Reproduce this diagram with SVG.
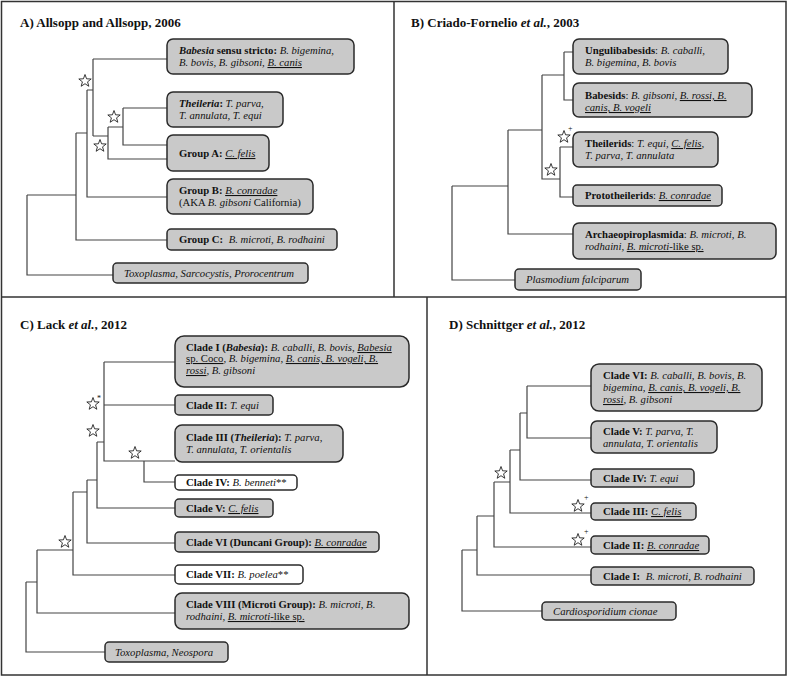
<svg xmlns="http://www.w3.org/2000/svg" xmlns:xlink="http://www.w3.org/1999/xlink" width="788" height="678" viewBox="0 0 788 678">
<defs>
<style>
text{font-family:"Liberation Serif","Times New Roman",serif;font-size:10.7px;fill:#111}
.title{font-size:13px;font-weight:bold}
.b{font-weight:bold}
.i{font-style:italic}
.u{text-decoration:underline}
.box{fill:#c9c9c9;stroke:#2a2a2a;stroke-width:1.5}
.wbox{fill:#fff;stroke:#2a2a2a;stroke-width:1.5}
.frame{fill:none;stroke:#333;stroke-width:1.5}
.conn path{fill:none;stroke:#444;stroke-width:1.2}
.star{fill:#fff;stroke:#222;stroke-width:0.9}
.mark{font-size:8px}
</style>
<path id="star" d="M0,-6.5 L1.59,-2.18 L6.18,-2.01 L2.57,0.83 L3.82,5.26 L0,2.7 L-3.82,5.26 L-2.57,0.83 L-6.18,-2.01 L-1.59,-2.18 Z"/>
</defs>
<rect width="788" height="678" fill="#fff"/>
<g id="frame" class="frame">
<rect x="1.5" y="1.5" width="784.5" height="673.5"/>
<path d="M394,2 V297 M2,297 H786 M427,297 V675"/>
</g>
<g id="titles">
<text class="title" x="20" y="27">A) Allsopp and Allsopp, 2006</text>
<text class="title" x="411" y="27">B) Criado-Fornelio <tspan class="i">et al.</tspan>, 2003</text>
<text class="title" x="20" y="329">C) Lack <tspan class="i">et al.</tspan>, 2012</text>
<text class="title" x="449" y="329">D) Schnittger <tspan class="i">et al.</tspan>, 2012</text>
</g>
<g id="connectors" class="conn">
<path d="M93,59 H167 M93,59 V136 M87,90 H93 M87,90 V197 H167 M123,108 H167 M123,108 V145 H167 M108,127 H123 M108,127 V159 H167 M93,136 H108 M76,133 H87 M76,133 V240 H167 M27,195 H76 M27,195 V275 H113"/>
<path d="M564,52 H573 M564,52 V100 H573 M542,75 H564 M542,75 V179 H560 M560,147 H573 M560,147 V197 H573 M508,130 H542 M508,130 V234 H573 M452,186 H508 M452,186 V280 H515"/>
<path d="M104,362 H175 M104,362 V461 H175 M104,405 H175 M144,461 V482 H175 M97,442 H104 M97,442 V508 H175 M87,480 H97 M87,480 V543 H175 M73,492 H87 M73,492 V575 H175 M37,550 H73 M37,550 V613 H175 M26,582 H37 M26,582 V652 H105"/>
<path d="M527,386 H591 M527,386 V438 H591 M520,413 H527 M520,413 V480 H591 M510,450 H520 M510,450 V513 H591 M494,482 H510 M494,482 V547 H591 M477,516 H494 M477,516 V575 H591 M462,550 H477 M462,550 V611 H542"/>
</g>
<g id="stars">
<use xlink:href="#star" href="#star" class="star" x="85" y="81"/>
<use xlink:href="#star" href="#star" class="star" x="114" y="117"/>
<use xlink:href="#star" href="#star" class="star" x="100" y="146"/>
<use xlink:href="#star" href="#star" class="star" x="564" y="137"/>
<text class="mark" x="568" y="131">+</text>
<use xlink:href="#star" href="#star" class="star" x="551" y="170"/>
<use xlink:href="#star" href="#star" class="star" x="93" y="404"/>
<text class="mark" x="97" y="401">*</text>
<use xlink:href="#star" href="#star" class="star" x="93" y="431"/>
<use xlink:href="#star" href="#star" class="star" x="135" y="453"/>
<use xlink:href="#star" href="#star" class="star" x="65" y="542"/>
<use xlink:href="#star" href="#star" class="star" x="501" y="473"/>
<use xlink:href="#star" href="#star" class="star" x="578" y="506"/>
<text class="mark" x="584" y="500">+</text>
<use xlink:href="#star" href="#star" class="star" x="578" y="540"/>
<text class="mark" x="584" y="534">+</text>
</g>
<g id="a-babesia">
<rect class="box" x="167" y="39" width="187" height="35" rx="6"/>
<text x="179" y="54"><tspan class="b"><tspan class="i">Babesia</tspan> sensu stricto:</tspan> <tspan class="i">B. bigemina,</tspan></text>
<text x="179" y="66" class="i">B. bovis, B. gibsoni, <tspan class="u">B. canis</tspan></text>
</g>
<g id="a-theileria">
<rect class="box" x="167" y="92" width="116" height="35" rx="6"/>
<text x="179" y="107"><tspan class="b"><tspan class="i">Theileria</tspan>:</tspan> <tspan class="i">T. parva,</tspan></text>
<text x="179" y="119" class="i">T. annulata, T. equi</text>
</g>
<g id="a-groupA">
<rect class="box" x="167" y="135" width="102" height="36" rx="6"/>
<text x="179" y="157"><tspan class="b">Group A:</tspan> <tspan class="i u">C. felis</tspan></text>
</g>
<g id="a-groupB">
<rect class="box" x="167" y="179" width="146" height="35" rx="6"/>
<text x="179" y="194"><tspan class="b">Group B:</tspan> <tspan class="i u">B. conradae</tspan></text>
<text x="179" y="206">(AKA <tspan class="i">B. gibsoni</tspan> California)</text>
</g>
<g id="a-groupC">
<rect class="box" x="167" y="229" width="170" height="21" rx="4"/>
<text x="179" y="243"><tspan class="b">Group C:</tspan> <tspan class="i" dx="3">B. microti, B. rodhaini</tspan></text>
</g>
<g id="a-outgroup">
<rect class="box" x="113" y="263" width="195" height="20" rx="4"/>
<text x="124" y="277" class="i">Toxoplasma, Sarcocystis, Prorocentrum</text>
</g>
<g id="b-unguli">
<rect class="box" x="573" y="39" width="155" height="35" rx="6"/>
<text x="585" y="54"><tspan class="b">Ungulibabesids</tspan>: <tspan class="i">B. caballi,</tspan></text>
<text x="585" y="66" class="i">B. bigemina, B. bovis</text>
</g>
<g id="b-babesids">
<rect class="box" x="573" y="83" width="179" height="34" rx="6"/>
<text x="585" y="99"><tspan class="b">Babesids</tspan>: <tspan class="i">B. gibsoni, <tspan class="u">B. rossi, B.</tspan></tspan></text>
<text x="585" y="111" class="i u">canis, B. vogeli</text>
</g>
<g id="b-theilerids">
<rect class="box" x="573" y="132" width="145" height="35" rx="6"/>
<text x="585" y="147"><tspan class="b">Theilerids</tspan>: <tspan class="i">T. equi, <tspan class="u">C. felis</tspan>,</tspan></text>
<text x="585" y="159" class="i">T. parva, T. annulata</text>
</g>
<g id="b-prototheilerids">
<rect class="box" x="573" y="185" width="149" height="21" rx="4"/>
<text x="585" y="199"><tspan class="b">Prototheilerids</tspan>: <tspan class="i u">B. conradae</tspan></text>
</g>
<g id="b-archaeo">
<rect class="box" x="573" y="223" width="203" height="36" rx="6"/>
<text x="585" y="238"><tspan class="b">Archaeopiroplasmida</tspan>: <tspan class="i">B. microti, B.</tspan></text>
<text x="585" y="250"><tspan class="i">rodhaini, <tspan class="u">B. microti</tspan></tspan><tspan class="u">-like sp.</tspan></text>
</g>
<g id="b-outgroup">
<rect class="box" x="515" y="269" width="126" height="21" rx="4"/>
<text x="526" y="283" class="i">Plasmodium falciparum</text>
</g>
<g id="c-clade1">
<rect class="box" x="175" y="336" width="234" height="51" rx="9"/>
<text x="186" y="351"><tspan class="b">Clade I (<tspan class="i">Babesia</tspan>):</tspan> <tspan class="i">B. caballi, B. bovis, <tspan class="u">Babesia</tspan></tspan></text>
<text x="186" y="362"><tspan class="u">sp. Coco</tspan>, <tspan class="i">B. bigemina, <tspan class="u">B. canis, B. vogeli, B.</tspan></tspan></text>
<text x="186" y="374" class="i"><tspan class="u">rossi</tspan>, B. gibsoni</text>
</g>
<g id="c-clade2">
<rect class="box" x="175" y="395" width="98" height="20" rx="4"/>
<text x="186" y="409"><tspan class="b">Clade II:</tspan> <tspan class="i">T. equi</tspan></text>
</g>
<g id="c-clade3">
<rect class="box" x="175" y="425" width="168" height="37" rx="7"/>
<text x="186" y="441"><tspan class="b">Clade III (<tspan class="i">Theileria</tspan>):</tspan> <tspan class="i">T. parva,</tspan></text>
<text x="186" y="453" class="i">T. annulata, T. orientalis</text>
</g>
<g id="c-clade4">
<rect class="wbox" x="175" y="475" width="122" height="15" rx="4"/>
<text x="186" y="486"><tspan class="b">Clade IV:</tspan> <tspan class="i">B. benneti</tspan>**</text>
</g>
<g id="c-clade5">
<rect class="box" x="175" y="499" width="98" height="18" rx="4"/>
<text x="186" y="512"><tspan class="b">Clade V:</tspan> <tspan class="i u">C. felis</tspan></text>
</g>
<g id="c-clade6">
<rect class="box" x="175" y="532" width="204" height="20" rx="4"/>
<text x="186" y="546"><tspan class="b">Clade VI (Duncani Group):</tspan> <tspan class="i u">B. conradae</tspan></text>
</g>
<g id="c-clade7">
<rect class="wbox" x="175" y="565" width="128" height="19" rx="4"/>
<text x="186" y="578"><tspan class="b">Clade VII:</tspan> <tspan class="i">B. poelea</tspan>**</text>
</g>
<g id="c-clade8">
<rect class="box" x="175" y="593" width="234" height="36" rx="7"/>
<text x="186" y="608"><tspan class="b">Clade VIII (Microti Group):</tspan> <tspan class="i">B. microti, B.</tspan></text>
<text x="186" y="620"><tspan class="i">rodhaini, <tspan class="u">B. microti</tspan></tspan><tspan class="u">-like sp.</tspan></text>
</g>
<g id="c-outgroup">
<rect class="box" x="105" y="642" width="123" height="20" rx="4"/>
<text x="115" y="656" class="i">Toxoplasma, Neospora</text>
</g>
<g id="d-clade6">
<rect class="box" x="591" y="364" width="171" height="47" rx="8"/>
<text x="603" y="379"><tspan class="b">Clade VI:</tspan> <tspan class="i">B. caballi, B. bovis, B.</tspan></text>
<text x="603" y="391" class="i">bigemina, <tspan class="u">B. canis, B. vogeli, B.</tspan></text>
<text x="603" y="403" class="i"><tspan class="u">rossi</tspan>, B. gibsoni</text>
</g>
<g id="d-clade5">
<rect class="box" x="591" y="421" width="126" height="32" rx="6"/>
<text x="603" y="435"><tspan class="b">Clade V:</tspan> <tspan class="i">T. parva, T.</tspan></text>
<text x="603" y="447" class="i">annulata, T. orientalis</text>
</g>
<g id="d-clade4">
<rect class="box" x="591" y="469" width="103" height="18" rx="4"/>
<text x="603" y="482"><tspan class="b">Clade IV:</tspan> <tspan class="i">T. equi</tspan></text>
</g>
<g id="d-clade3">
<rect class="box" x="591" y="503" width="105" height="17" rx="4"/>
<text x="603" y="515"><tspan class="b">Clade III:</tspan> <tspan class="i u">C. felis</tspan></text>
</g>
<g id="d-clade2">
<rect class="box" x="591" y="536" width="118" height="18" rx="4"/>
<text x="603" y="549"><tspan class="b">Clade II:</tspan> <tspan class="i u">B. conradae</tspan></text>
</g>
<g id="d-clade1">
<rect class="box" x="591" y="567" width="163" height="18" rx="4"/>
<text x="603" y="580"><tspan class="b">Clade I:</tspan> <tspan class="i" dx="3">B. microti, B. rodhaini</tspan></text>
</g>
<g id="d-outgroup">
<rect class="box" x="542" y="602" width="134" height="18" rx="4"/>
<text x="553" y="615" class="i">Cardiosporidium cionae</text>
</g>
</svg>
